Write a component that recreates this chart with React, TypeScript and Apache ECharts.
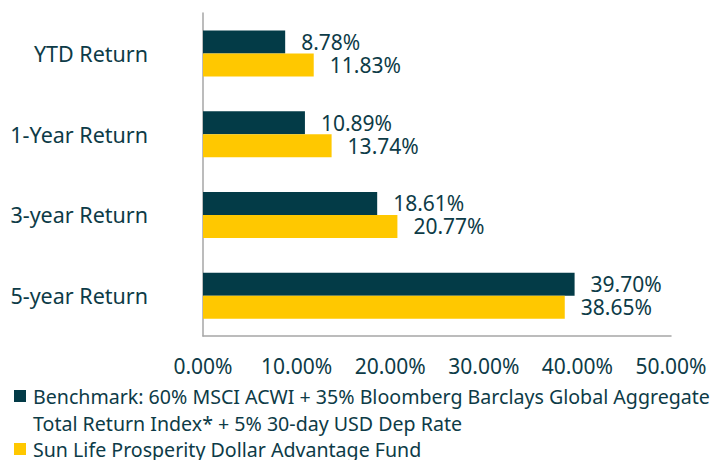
import React, { useEffect, useRef } from "react";
import * as echarts from "echarts";

const categories = ["YTD Return", "1-Year Return", "3-year Return", "5-year Return"];
const benchmarkName =
  "Benchmark: 60% MSCI ACWI + 35% Bloomberg Barclays Global Aggregate Total Return Index* + 5% 30-day USD Dep Rate";
const fundName = "Sun Life Prosperity Dollar Advantage Fund";
const benchmarkValues = [8.78, 10.89, 18.61, 39.7];
const fundValues = [11.83, 13.74, 20.77, 38.65];
const xTicks = [0, 10, 20, 30, 40, 50];

const DARK = "#033b47";
const YELLOW = "#ffc800";
const TEXT = "#0d3b47";
const FONT = "Noto Sans";

export default function App() {
  const ref = useRef<HTMLDivElement>(null);
  useEffect(() => {
    if (!ref.current) return;
    const chart = echarts.init(ref.current, undefined, { renderer: "svg" });
    const legendBreak = benchmarkName.indexOf(" Total Return");
    const labelStyle = {
      show: true,
      position: "right",
      distance: 16,
      color: TEXT,
      fontFamily: FONT,
      fontSize: 21,
      lineHeight: 21,
      formatter: (p: any) => p.value.toFixed(2) + "%",
    };
    const option = {
      animation: false,
      grid: { left: 203, right: 41, top: 13, bottom: 124, containLabel: false },
      xAxis: {
        type: "value",
        min: xTicks[0],
        max: xTicks[xTicks.length - 1],
        interval: 10,
        axisLine: { show: true, lineStyle: { color: "#a6a6a6", width: 1.5 } },
        axisTick: { show: false },
        splitLine: { show: false },
        axisLabel: {
          margin: 19,
          color: TEXT,
          fontFamily: FONT,
          fontSize: 21,
          formatter: (v: number) => v.toFixed(2) + "%",
        },
      },
      yAxis: {
        type: "category",
        data: categories,
        inverse: true,
        axisLine: { show: true, lineStyle: { color: "#a6a6a6", width: 1.5 } },
        axisTick: { show: false },
        axisLabel: { margin: 55, color: TEXT, fontFamily: FONT, fontSize: 21.5 },
      },
      series: [
        {
          name: benchmarkName,
          type: "bar",
          data: benchmarkValues,
          barWidth: 23,
          barGap: "0%",
          itemStyle: { color: DARK },
          label: labelStyle,
        },
        {
          name: fundName,
          type: "bar",
          data: fundValues,
          barWidth: 23,
          barGap: "0%",
          itemStyle: { color: YELLOW },
          label: labelStyle,
        },
      ],
      graphic: [
        { type: "rect", left: 14, top: 390, shape: { width: 12, height: 12 }, style: { fill: DARK } },
        {
          type: "text",
          left: 33,
          top: 383,
          style: {
            text: benchmarkName.slice(0, legendBreak) + "\n" + benchmarkName.slice(legendBreak + 1),
            fill: TEXT,
            font: `19.6px "${FONT}"`,
            lineHeight: 27,
          },
        },
        { type: "rect", left: 14, top: 443, shape: { width: 12, height: 12 }, style: { fill: YELLOW } },
        {
          type: "text",
          left: 33,
          top: 436,
          style: { text: fundName, fill: TEXT, font: `19.6px "${FONT}"`, lineHeight: 27 },
        },
      ],
    };
    chart.setOption(option as any);
    return () => chart.dispose();
  }, []);
  return <div ref={ref} style={{ width: 712, height: 460, position: "absolute", left: 0, top: 0 }} />;
}
